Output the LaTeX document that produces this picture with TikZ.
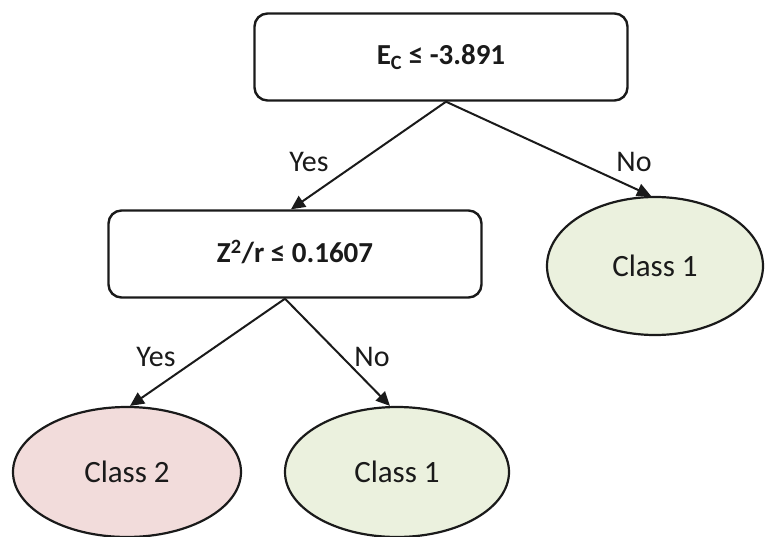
\documentclass[tikz,border=0pt]{standalone}
\usepackage{fontspec}
\setmainfont{Carlito}
\usetikzlibrary{shapes.geometric,arrows.meta}
\definecolor{leafred}{RGB}{242,220,219}
\definecolor{leafgreen}{RGB}{235,241,222}
\definecolor{ink}{RGB}{26,26,26}
\tikzset{
  testbox/.style={draw=ink, line width=2.4pt, rounded corners=13pt, fill=white,
    minimum width=373pt, minimum height=87pt, inner sep=0pt,
    font=\fontsize{29}{34}\selectfont\bfseries, text=ink},
  leaf/.style={draw=ink, ellipse, line width=2.2pt, inner sep=0pt,
    font=\fontsize{31}{36}\selectfont, text=ink},
  branch/.style={draw=ink, line width=2pt, -{Triangle[length=14pt,width=13pt]}},
  answer/.style={font=\fontsize{30}{35}\selectfont, text=ink, inner sep=0pt}
}
\begin{document}
\begin{tikzpicture}[x=1pt,y=-1pt]
  \useasboundingbox (0,0) rectangle (765,537);

  % decision nodes
  \node[testbox] (root) at (441,57) {\raisebox{4pt}{E\textsubscript{C} ≤ -3.891}};
  \node[testbox] (zr) at (295,254) {\raisebox{5pt}{Z\textsuperscript{2}/r ≤ 0.1607}};

  % leaves
  \node[leaf, fill=leafgreen, minimum width=216pt, minimum height=138pt] (rc1) at (655,266) {Class 1};
  \node[leaf, fill=leafred, minimum width=228pt, minimum height=130pt] (lc2) at (127,472) {Class 2};
  \node[leaf, fill=leafgreen, minimum width=224pt, minimum height=130pt] (mc1) at (397,472) {Class 1};

  % branches
  \draw[branch] ([xshift=5pt]root.south) -- ([xshift=-4pt]zr.north);
  \draw[branch] ([xshift=5pt]root.south) -- ([xshift=-4pt]rc1.north);
  \draw[branch] ([xshift=-10pt]zr.south) -- ([xshift=3pt]lc2.north);
  \draw[branch] ([xshift=-10pt]zr.south) -- ([xshift=-7pt]mc1.north);

  % branch labels
  \node[answer] (y1) at (309,162) {Yes};
  \node[answer] (n1) at (634,162) {No};
  \node[answer] (y2) at (156,357) {Yes};
  \node[answer] (n2) at (372,357) {No};
\end{tikzpicture}
\end{document}
